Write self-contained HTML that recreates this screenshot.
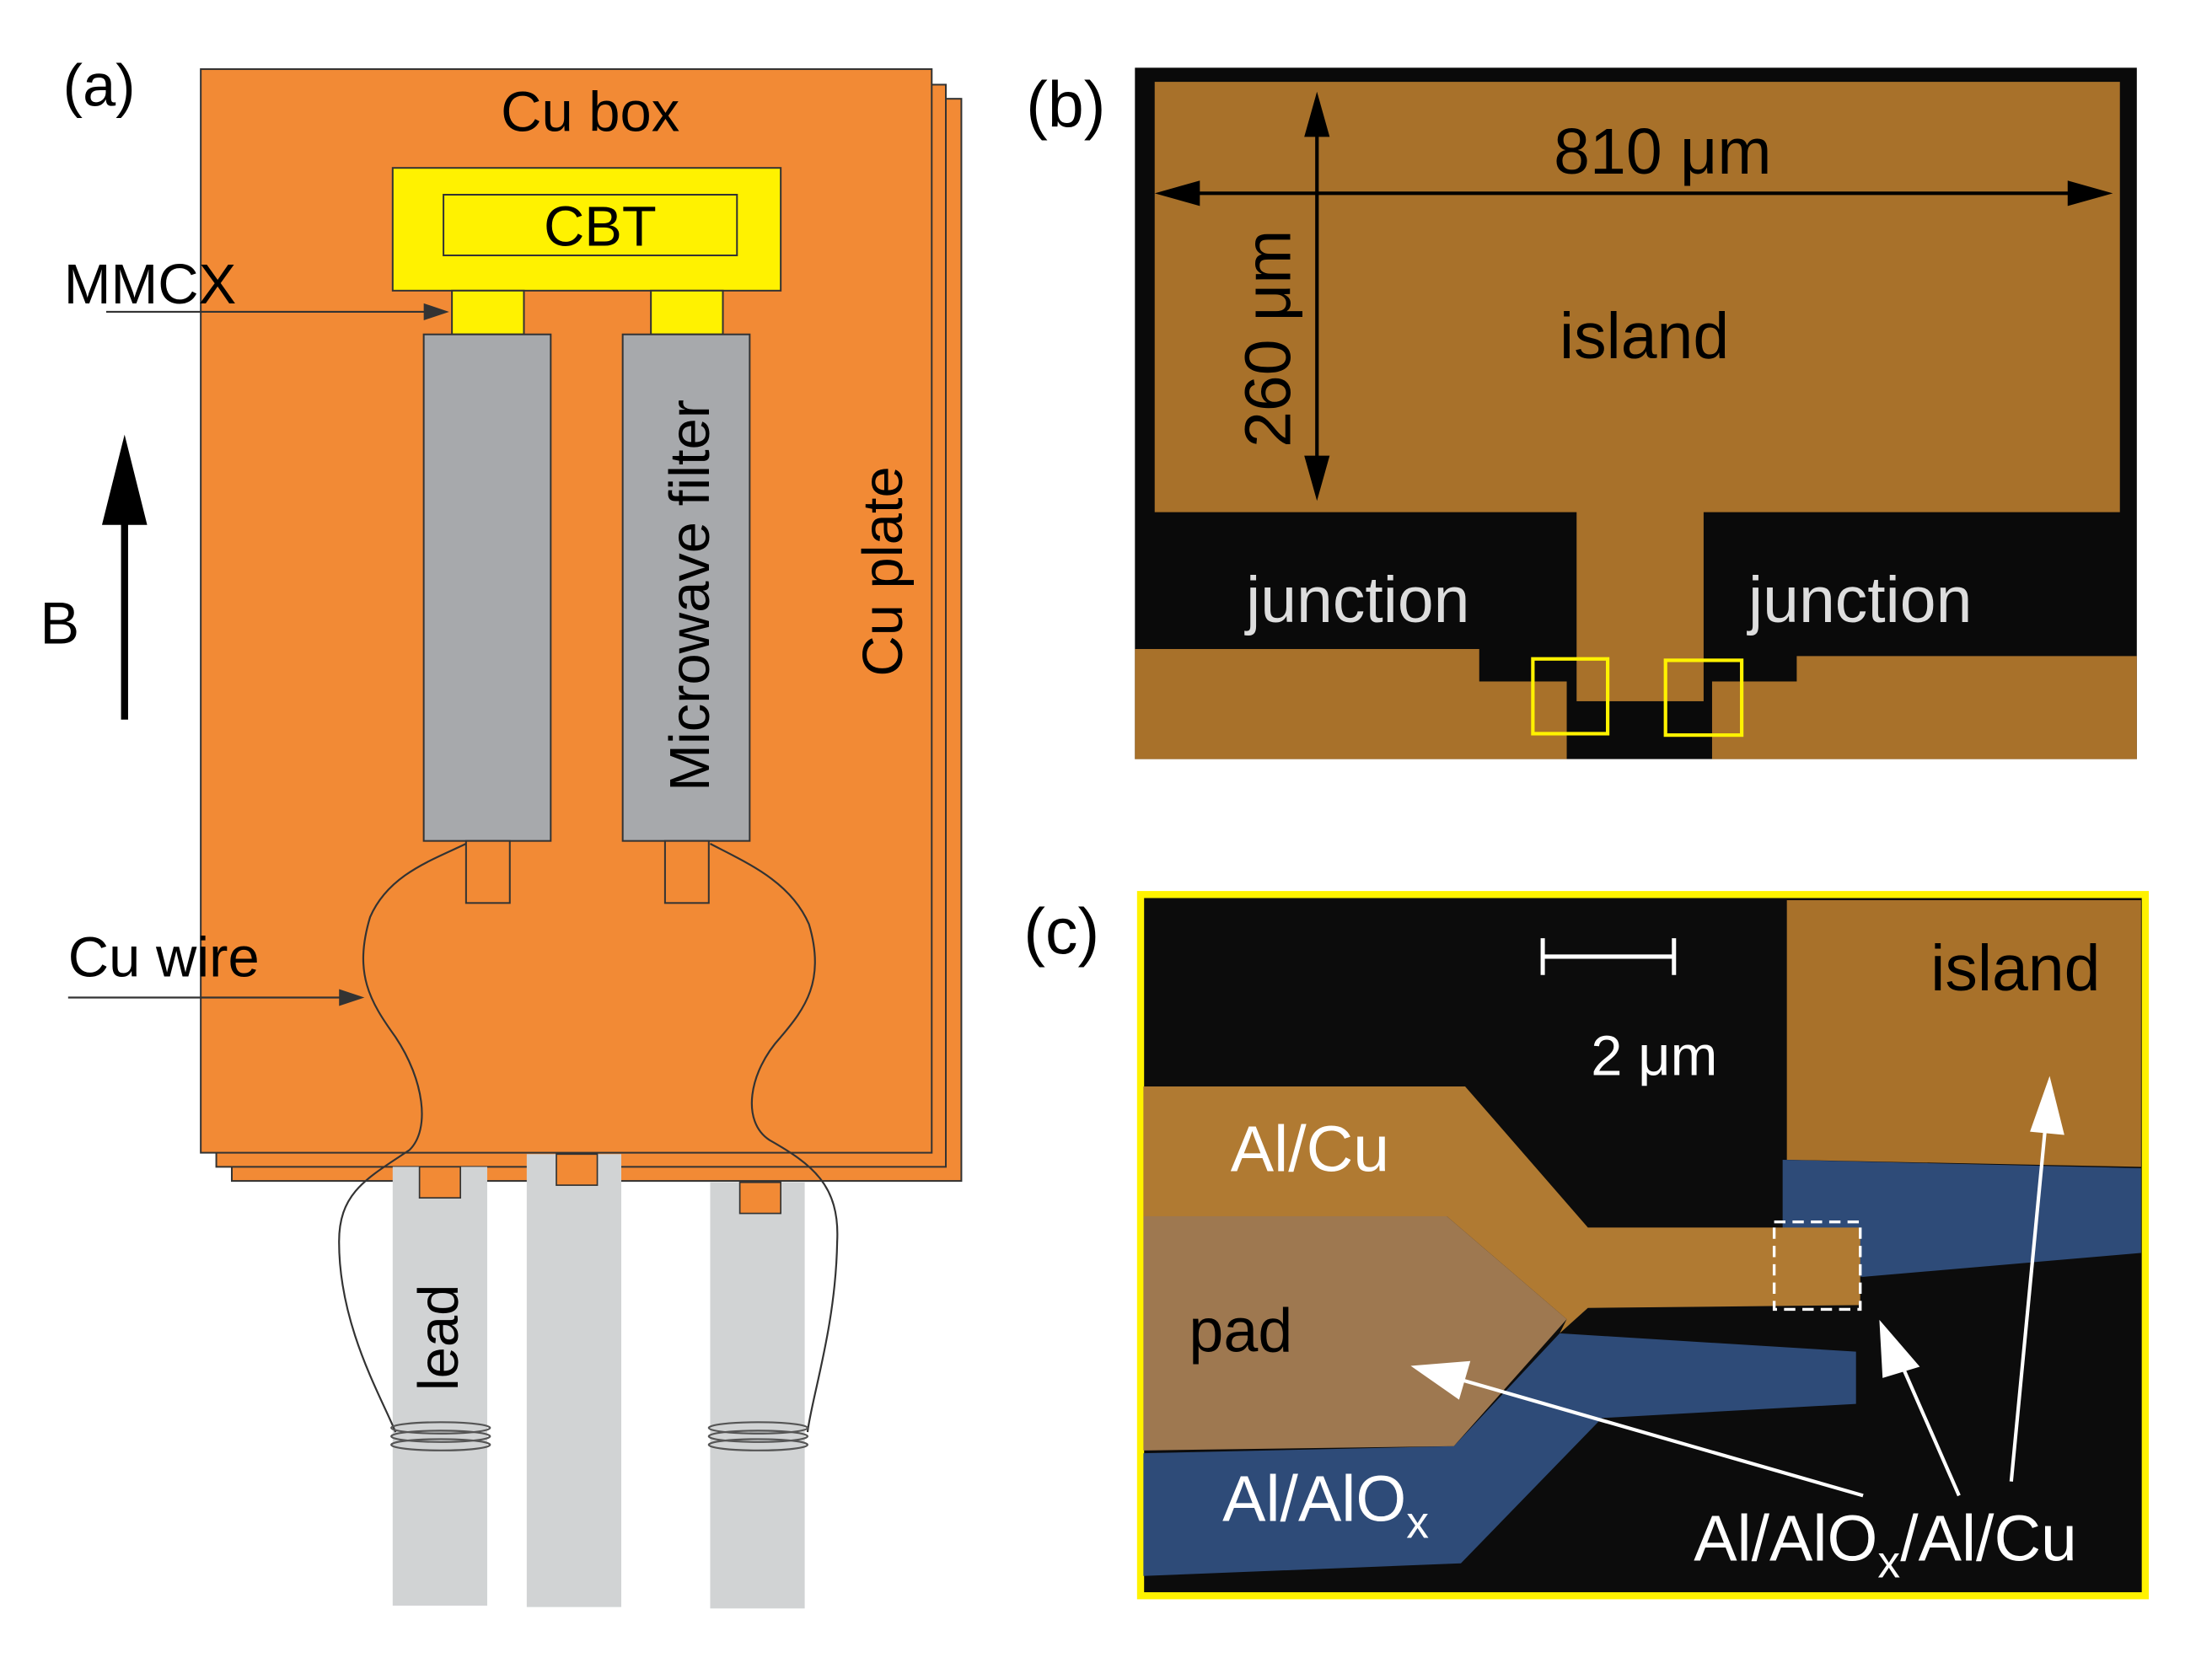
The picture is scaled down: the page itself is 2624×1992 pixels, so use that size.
<!DOCTYPE html>
<html><head><meta charset="utf-8"><style>
html,body{margin:0;padding:0;background:#fff;}
svg{display:block;}
text{font-family:"Liberation Sans",Arial,sans-serif;}
</style></head><body>
<svg width="2624" height="1992" viewBox="0 0 1567 1190" xmlns="http://www.w3.org/2000/svg">
<rect width="1567" height="1190" fill="#fff"/>
<!-- Panel (a) -->
<rect x="164" y="70" width="517" height="767" fill="#F28A35" stroke="#333" stroke-width="1.2"/>
<rect x="153" y="60" width="517" height="767" fill="#F28A35" stroke="#333" stroke-width="1.2"/>
<rect x="142" y="49" width="518" height="768" fill="#F28A35" stroke="#333" stroke-width="1.2"/>
<rect x="278" y="119" width="275" height="87" fill="#FFF200" stroke="#333" stroke-width="1.2"/>
<rect x="314" y="138" width="208" height="43" fill="none" stroke="#333" stroke-width="1.2"/>
<rect x="320" y="206" width="51" height="31" fill="#FFF200" stroke="#333" stroke-width="1.2"/>
<rect x="461" y="206" width="51" height="31" fill="#FFF200" stroke="#333" stroke-width="1.2"/>
<rect x="300" y="237" width="90" height="359" fill="#A7A9AC" stroke="#333" stroke-width="1.2"/>
<rect x="441" y="237" width="90" height="359" fill="#A7A9AC" stroke="#333" stroke-width="1.2"/>
<rect x="330" y="596" width="31" height="44" fill="#F28A35" stroke="#333" stroke-width="1.2"/>
<rect x="471" y="596" width="31" height="44" fill="#F28A35" stroke="#333" stroke-width="1.2"/>
<!-- leads -->
<rect x="278" y="827" width="67" height="311" fill="#D1D3D4"/>
<rect x="373" y="818" width="67" height="321" fill="#D1D3D4"/>
<rect x="503" y="838" width="67" height="302" fill="#D1D3D4"/>
<rect x="297" y="827" width="29" height="22" fill="#F28A35" stroke="#333" stroke-width="1"/>
<rect x="394" y="818" width="29" height="22" fill="#F28A35" stroke="#333" stroke-width="1"/>
<rect x="524" y="838" width="29" height="22" fill="#F28A35" stroke="#333" stroke-width="1"/>
<!-- Cu wire -->
<path d="M330,598 C305,610 275,620 262,650 C250,690 262,710 280,735 C300,765 305,800 290,815 C260,835 240,845 240,880 C240,940 270,990 280,1015" fill="none" stroke="#333" stroke-width="1.3"/>
<path d="M503,598 C530,612 560,625 573,655 C585,695 570,715 553,735 C530,760 525,795 545,808 C575,825 595,840 593,880 C592,940 575,990 572,1015" fill="none" stroke="#333" stroke-width="1.3"/>
<g fill="none" stroke="#555" stroke-width="1.3">
<ellipse cx="312" cy="1012" rx="35" ry="4"/><ellipse cx="312" cy="1018" rx="35" ry="4"/><ellipse cx="312" cy="1024" rx="35" ry="4"/>
<ellipse cx="537" cy="1012" rx="35" ry="4"/><ellipse cx="537" cy="1018" rx="35" ry="4"/><ellipse cx="537" cy="1024" rx="35" ry="4"/>
</g>
<!-- pointer arrows -->
<line x1="75" y1="221" x2="305" y2="221" stroke="#333" stroke-width="1.3"/>
<polygon points="318,221 300,215 300,227" fill="#333"/>
<line x1="48" y1="707" x2="245" y2="707" stroke="#333" stroke-width="1.3"/>
<polygon points="258,707 240,701 240,713" fill="#333"/>
<!-- B arrow -->
<line x1="88" y1="510" x2="88" y2="360" stroke="#000" stroke-width="5"/>
<polygon points="88,308 72,372 104,372" fill="#000"/>
<text x="70" y="75" font-size="42" text-anchor="middle">(a)</text>
<text x="418" y="93" font-size="40" text-anchor="middle">Cu box</text>
<text x="425" y="174" font-size="40" text-anchor="middle">CBT</text>
<text x="45" y="215" font-size="40">MMCX</text>
<text x="48" y="692" font-size="40">Cu wire</text>
<text x="42" y="456" font-size="42" text-anchor="middle">B</text>
<text transform="translate(502,422) rotate(-90)" font-size="40" text-anchor="middle">Microwave filter</text>
<text transform="translate(639,405) rotate(-90)" font-size="40" text-anchor="middle">Cu plate</text>
<text transform="translate(324,948) rotate(-90)" font-size="40" text-anchor="middle">lead</text>
<!-- Panel (b) -->
<text x="755" y="90" font-size="46" text-anchor="middle">(b)</text>
<rect x="804" y="48" width="710" height="490" fill="#0a0a0a"/>
<rect x="818" y="58" width="684" height="305" fill="#A8712A"/>
<rect x="1117" y="360" width="90" height="137" fill="#A8712A"/>
<polygon points="804,460 1048,460 1048,483 1110,483 1110,538 804,538" fill="#A8712A"/>
<polygon points="1213,538 1213,483 1273,483 1273,465 1514,465 1514,538" fill="#A8712A"/>
<rect x="1086" y="467" width="53" height="53" fill="none" stroke="#FFF200" stroke-width="2.5"/>
<rect x="1180" y="468" width="54" height="53" fill="none" stroke="#FFF200" stroke-width="2.5"/>
<line x1="830" y1="137" x2="1485" y2="137" stroke="#000" stroke-width="2.5"/>
<polygon points="818,137 850,128 850,146" fill="#000"/>
<polygon points="1497,137 1465,128 1465,146" fill="#000"/>
<line x1="933" y1="78" x2="933" y2="342" stroke="#000" stroke-width="2.5"/>
<polygon points="933,65 924,97 942,97" fill="#000"/>
<polygon points="933,355 924,323 942,323" fill="#000"/>
<text x="1178" y="123" font-size="46" text-anchor="middle">810 μm</text>
<text transform="translate(914,240) rotate(-90)" font-size="46" text-anchor="middle">260 μm</text>
<text x="1165" y="254" font-size="46" text-anchor="middle">island</text>
<text x="962" y="441" font-size="46" text-anchor="middle" fill="#ddd">junction</text>
<text x="1318" y="441" font-size="46" text-anchor="middle" fill="#ddd">junction</text>
<!-- Panel (c) -->
<text x="752" y="676" font-size="46" text-anchor="middle">(c)</text>
<rect x="808" y="634" width="712" height="497" fill="#0c0c0c" stroke="#FFF200" stroke-width="5"/>
<polygon points="1266,638 1517,638 1517,827 1266,822" fill="#A8712A"/>
<polygon points="1263,822 1517,828 1517,888 1320,905 1263,900" fill="#2E4B78"/>
<polygon points="810,1030 1030,1025 1105,945 1315,958 1315,995 1135,1005 1035,1108 810,1117" fill="#2E4B78"/>
<polygon points="810,770 1038,770 1125,870 1318,870 1318,925 1125,927 1105,945 1110,935 1025,862 810,862" fill="#B07A32"/>
<polygon points="810,862 1025,862 1110,935 1030,1025 810,1028" fill="#9E7850"/>
<rect x="1257" y="866" width="61" height="62" fill="none" stroke="#fff" stroke-width="2" stroke-dasharray="8,5"/>
<line x1="1092" y1="678" x2="1186" y2="678" stroke="#fff" stroke-width="3"/>
<line x1="1093" y1="665" x2="1093" y2="691" stroke="#fff" stroke-width="3"/>
<line x1="1186" y1="665" x2="1186" y2="691" stroke="#fff" stroke-width="3"/>
<g stroke="#fff" stroke-width="2.5" fill="#fff">
<line x1="1320" y1="1060" x2="1025" y2="975"/>
<polygon points="1003,969 1040,966 1033,990"/>
<line x1="1388" y1="1060" x2="1342" y2="955"/>
<polygon points="1333,939 1358,968 1335,975"/>
<line x1="1425" y1="1050" x2="1450" y2="790"/>
<polygon points="1452,767 1461,803 1440,801"/>
</g>
<text x="1172" y="762" font-size="40" text-anchor="middle" fill="#fff">2 μm</text>
<text x="1428" y="702" font-size="46" text-anchor="middle">island</text>
<text x="928" y="830" font-size="46" text-anchor="middle" fill="#fff">Al/Cu</text>
<text x="879" y="958" font-size="44" text-anchor="middle">pad</text>
<text x="866" y="1078" font-size="46" fill="#fff">Al/AlO<tspan font-size="32" dy="12">x</tspan></text>
<text x="1200" y="1106" font-size="46" fill="#fff">Al/AlO<tspan font-size="32" dy="12">x</tspan><tspan dy="-12">/Al/Cu</tspan></text>
</svg>
</body></html>
